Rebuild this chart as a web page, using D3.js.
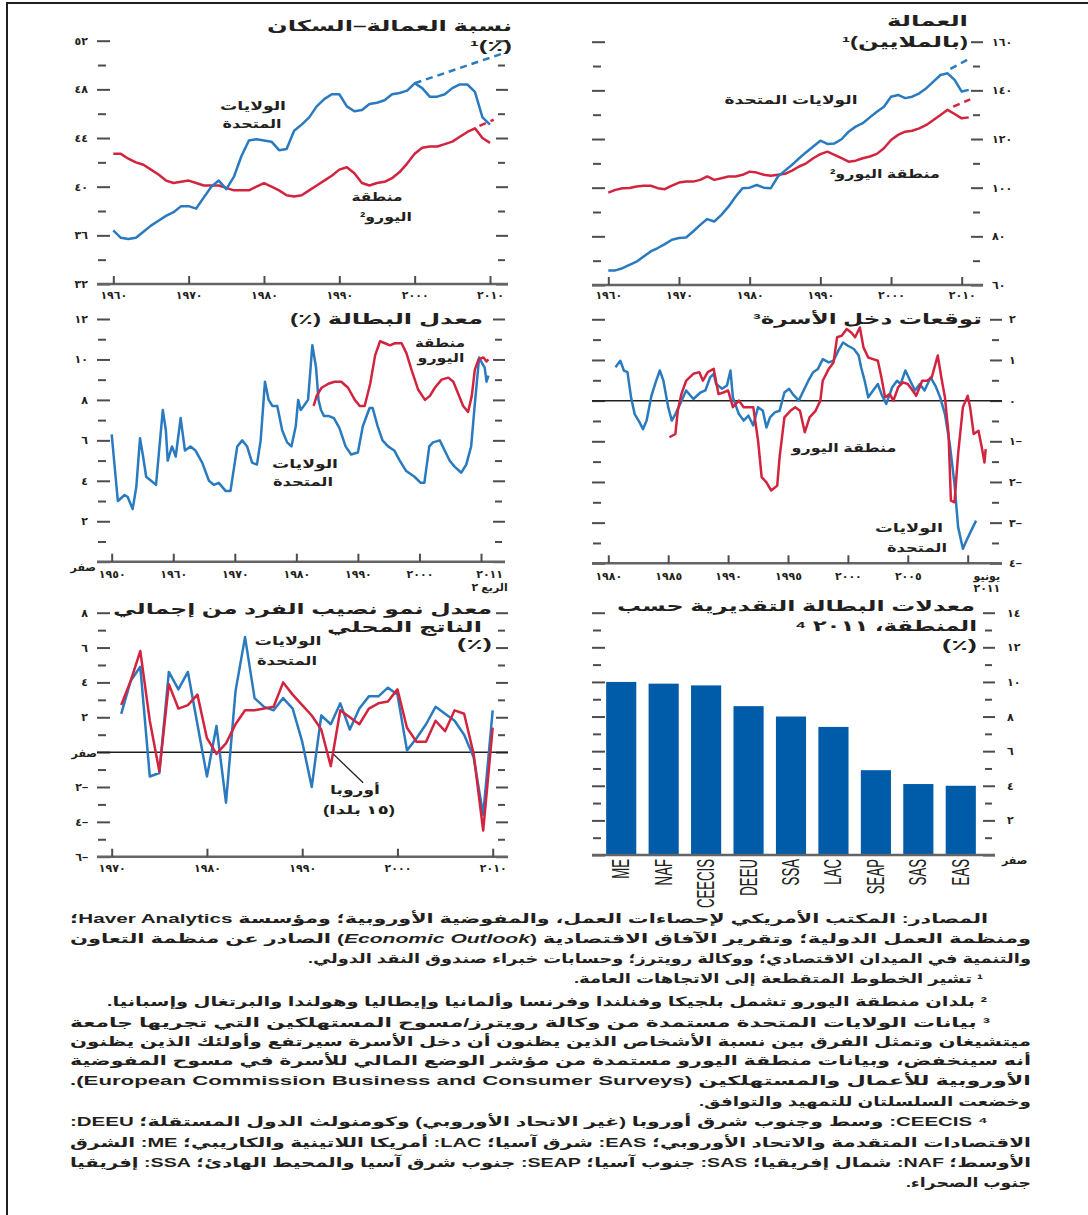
<!DOCTYPE html>
<html>
<head>
<meta charset="utf-8">
<script src="https://cdn.jsdelivr.net/npm/d3@7"></script>
<style>
  body { margin: 0; background: #fff; }
  svg { display: block; }
</style>
</head>
<body>
<div id="chart"></div>
<script>
// ---- data ----
// employment-population ratio (%), annual from 1960
var p1Start = 1960;
var p1US = [36.4, 35.8, 35.7, 35.8, 36.3, 36.8, 37.2, 37.6, 37.9, 38.4,
  38.4, 38.2, 39.1, 40.0, 40.5, 39.8, 40.8, 42.5, 43.8, 43.9,
  43.8, 43.7, 43.0, 43.1, 44.6, 45.1, 45.7, 46.6, 47.2, 47.6,
  47.6, 46.6, 46.2, 46.3, 46.8, 46.9, 47.1, 47.6, 47.7, 47.9,
  48.5, 48.1, 47.4, 47.4, 47.6, 48.1, 48.4, 48.4, 47.8, 45.7, 45.1];
var p1EA = [42.7, 42.7, 42.3, 42.0, 41.8, 41.4, 41.0, 40.5, 40.3, 40.4,
  40.5, 40.3, 40.1, 40.1, 40.1, 39.9, 39.7, 39.7, 39.7, 40.0,
  40.3, 40.0, 39.7, 39.3, 39.2, 39.3, 39.7, 40.1, 40.5, 40.9,
  41.4, 41.6, 41.1, 40.3, 40.1, 40.3, 40.4, 40.7, 41.2, 41.9,
  42.7, 43.2, 43.3, 43.3, 43.5, 43.7, 44.1, 44.5, 44.8, 44.0, 43.6];
var p1USTrend = [[2000, 48.5], [2012.4, 51.1]];
var p1EATrend = [[2008.6, 45.0], [2010.5, 45.5]];
var p1YTicks = [32, 36, 40, 44, 48, 52];
var p1YLabels = ["٣٢", "٣٦", "٤٠", "٤٤", "٤٨", "٥٢"];
var decadeTicks = [1960, 1970, 1980, 1990, 2000, 2010];
var decadeLabels = ["١٩٦٠", "١٩٧٠", "١٩٨٠", "١٩٩٠", "٢٠٠٠", "٢٠١٠"];

// employment (millions), annual from 1960
var p2Start = 1960;
var p2US = [66.0, 66.0, 66.9, 68.3, 69.6, 71.7, 73.8, 75.2, 76.8, 78.6,
  79.3, 79.5, 82.0, 84.7, 87.1, 86.1, 88.8, 92.2, 96.3, 99.8,
  100.0, 101.1, 100.0, 99.8, 104.6, 107.0, 109.4, 112.1, 114.6, 116.9,
  119.3, 118.0, 118.2, 119.9, 123.0, 125.1, 126.5, 128.9, 131.2, 133.3,
  137.4, 138.1, 136.8, 137.4, 138.8, 140.9, 143.6, 146.3, 147.0, 144.3, 139.5, 140.2];
var p2EA = [98.0, 99.1, 99.8, 99.9, 100.5, 100.8, 100.8, 99.8, 99.4, 100.8,
  102.1, 102.5, 102.5, 103.2, 104.6, 103.2, 103.9, 104.6, 104.6, 105.3,
  106.6, 106.2, 105.3, 104.9, 105.3, 105.7, 107.0, 108.7, 110.0, 112.1,
  113.8, 114.8, 113.5, 112.1, 110.7, 111.1, 112.1, 112.8, 113.9, 116.2,
  119.6, 121.7, 123.0, 123.4, 124.4, 125.8, 127.8, 129.9, 132.0, 130.3, 128.5, 128.9];
var p2USTrend = [[2008.4, 148.8], [2011.2, 153.2]];
var p2EATrend = [[2008.8, 133.3], [2011.2, 136.3]];
var p2YTicks = [60, 80, 100, 120, 140, 160];
var p2YLabels = ["٦٠", "٨٠", "١٠٠", "١٢٠", "١٤٠", "١٦٠"];

// unemployment rate (%), [year, value]
var p3US = [[1950.0, 6.3], [1951.0, 3.0], [1952.1, 3.3], [1952.6, 3.2], [1953.4, 2.6], [1954.0, 3.7],
  [1954.6, 6.1], [1955.1, 5.2], [1955.6, 4.2], [1956.4, 4.0], [1957.2, 3.8], [1958.3, 7.5],
  [1958.8, 6.5], [1959.1, 5.0], [1959.8, 5.7], [1960.4, 5.2], [1961.2, 7.1], [1961.9, 5.5],
  [1962.8, 5.7], [1963.6, 5.5], [1964.7, 4.9], [1965.8, 4.0], [1966.6, 3.8], [1967.4, 3.9],
  [1968.5, 3.5], [1969.3, 3.5], [1970.4, 5.7], [1971.2, 6.0], [1972.0, 5.7], [1972.8, 4.9],
  [1973.6, 4.8], [1974.2, 6.0], [1974.9, 8.9], [1975.5, 8.0], [1976.1, 7.7], [1976.9, 7.7],
  [1977.7, 6.5], [1978.5, 5.9], [1979.2, 5.7], [1979.9, 6.7], [1980.3, 8.0], [1980.7, 7.5],
  [1981.2, 7.7], [1981.9, 8.0], [1982.6, 10.7], [1983.2, 9.6], [1983.6, 8.0], [1984.0, 7.5],
  [1984.5, 7.2], [1985.3, 7.2], [1986.1, 7.1], [1987.0, 6.6], [1988.0, 5.7], [1988.9, 5.3],
  [1990.0, 5.4], [1990.8, 6.7], [1991.9, 7.6], [1992.4, 7.6], [1993.2, 6.7], [1994.0, 6.0],
  [1994.9, 5.7], [1995.9, 5.5], [1996.8, 5.0], [1997.8, 4.5], [1999.2, 4.2], [2000.2, 3.9],
  [2000.8, 3.9], [2001.6, 5.7], [2002.2, 5.9], [2003.3, 6.0], [2004.1, 5.5], [2004.9, 5.0],
  [2005.7, 4.7], [2006.8, 4.4], [2007.6, 4.8], [2008.4, 5.7], [2009.0, 7.8], [2009.7, 10.1],
  [2010.2, 9.8], [2010.6, 9.6], [2010.9, 8.9], [2011.2, 9.2]];
var p3EA = [[1982.8, 7.7], [1983.3, 8.2], [1984.1, 8.6], [1985.2, 8.8], [1986.2, 8.9], [1987.3, 8.9],
  [1988.4, 8.6], [1989.5, 8.0], [1990.3, 7.7], [1991.1, 7.7], [1992.0, 8.8], [1992.8, 10.2],
  [1993.6, 10.9], [1994.4, 10.8], [1995.2, 10.7], [1996.0, 10.8], [1997.1, 10.8], [1997.9, 10.3],
  [1998.7, 9.5], [1999.8, 8.5], [2000.9, 8.0], [2001.7, 8.2], [2002.5, 8.6], [2003.6, 9.0],
  [2004.7, 9.1], [2005.5, 8.9], [2006.3, 8.3], [2007.1, 7.7], [2007.9, 7.4], [2008.5, 8.2],
  [2009.0, 9.5], [2009.6, 10.0], [2010.4, 10.1], [2010.9, 9.9], [2011.2, 10.0]];
var p3XTicks = [1950, 1960, 1970, 1980, 1990, 2000, 2010];
var p3XLabels = ["١٩٥٠", "١٩٦٠", "١٩٧٠", "١٩٨٠", "١٩٩٠", "٢٠٠٠"];
var p3YTicks = [2, 4, 6, 8, 10, 12];
var p3YLabels = ["٢", "٤", "٦", "٨", "١٠", "١٢"];

// household income expectations, [year, value]
var p4US = [[1980.6, 0.82], [1981.0, 0.98], [1981.3, 0.74], [1981.6, 0.70], [1981.9, 0.08], [1982.2, -0.33],
  [1982.6, -0.53], [1982.9, -0.70], [1983.2, -0.49], [1983.6, 0.12], [1984.0, 0.49], [1984.3, 0.74],
  [1984.6, 0.49], [1985.0, -0.16], [1985.3, -0.49], [1985.6, -0.33], [1986.0, -0.08], [1986.5, 0.25],
  [1987.1, 0.04], [1987.7, 0.20], [1988.1, 0.25], [1988.5, 0.57], [1988.8, 0.66], [1989.0, 0.41],
  [1989.5, 0.29], [1989.9, 0.37], [1990.2, 0.74], [1990.4, 0.08], [1990.9, -0.33], [1991.3, -0.49],
  [1991.7, -0.37], [1992.1, -0.61], [1992.5, -0.16], [1992.9, -0.25], [1993.2, -0.66], [1993.5, -0.41],
  [1993.9, -0.29], [1994.3, -0.25], [1994.7, 0.20], [1995.1, 0.29], [1995.4, 0.16], [1995.9, 0.0],
  [1996.3, 0.25], [1996.7, 0.49], [1997.1, 0.70], [1997.5, 0.78], [1997.9, 1.02], [1998.4, 0.94],
  [1998.8, 0.98], [1999.2, 1.23], [1999.6, 1.43], [2000.0, 1.35], [2000.5, 1.27], [2000.9, 1.11],
  [2001.1, 0.82], [2001.4, 0.49], [2001.7, 0.08], [2002.1, 0.25], [2002.5, 0.41], [2002.8, 0.16],
  [2003.2, -0.08], [2003.7, 0.33], [2004.1, 0.49], [2004.4, 0.41], [2004.8, 0.74], [2005.2, 0.49],
  [2005.6, 0.25], [2006.0, 0.41], [2006.4, 0.25], [2006.9, 0.57], [2007.3, 0.37], [2007.7, 0.08],
  [2008.1, -0.33], [2008.5, -1.06], [2008.9, -2.05], [2009.2, -3.11], [2009.6, -3.64], [2009.9, -3.44],
  [2010.3, -3.19], [2010.7, -2.95]];
var p4EA = [[1985.1, -0.90], [1985.6, -0.82], [1985.8, -0.25], [1986.1, 0.16], [1986.5, 0.49], [1987.1, 0.66],
  [1987.6, 0.70], [1987.9, 0.49], [1988.3, 0.70], [1988.8, 0.78], [1989.2, 0.16], [1989.6, 0.20],
  [1990.0, 0.25], [1990.4, -0.16], [1990.9, 0.0], [1991.3, -0.16], [1991.7, -0.16], [1992.1, -0.16],
  [1992.5, -0.98], [1992.8, -1.88], [1993.2, -2.01], [1993.6, -2.21], [1994.1, -2.09], [1994.3, -1.39],
  [1994.7, -0.41], [1995.2, -0.25], [1995.6, -0.16], [1996.0, -0.25], [1996.4, -0.78], [1996.8, -0.41],
  [1997.3, -0.25], [1997.7, 0.0], [1997.9, 0.49], [1998.4, 0.78], [1998.8, 0.94], [1999.1, 1.56],
  [1999.5, 1.60], [1999.9, 1.76], [2000.3, 1.67], [2000.6, 1.56], [2001.0, 1.80], [2001.3, 1.31],
  [2001.7, 1.06], [2002.1, 1.02], [2002.5, 0.98], [2002.8, 0.57], [2003.1, 0.08], [2003.5, 0.16],
  [2003.8, 0.0], [2004.2, 0.33], [2004.6, 0.45], [2005.0, 0.41], [2005.4, 0.25], [2005.7, 0.12],
  [2006.2, 0.49], [2006.6, 0.49], [2007.0, 0.57], [2007.5, 1.11], [2007.8, 0.57], [2008.1, 0.08],
  [2008.4, -0.82], [2008.6, -2.46], [2008.9, -2.50], [2009.2, -1.31], [2009.6, -0.16], [2010.0, 0.12],
  [2010.2, -0.16], [2010.5, -0.82], [2010.9, -0.74], [2011.2, -1.19], [2011.4, -1.52], [2011.5, -1.19]];
var p4XTicks = [1980, 1985, 1990, 1995, 2000, 2005, 2010];
var p4XLabels = ["١٩٨٠", "١٩٨٥", "١٩٩٠", "١٩٩٥", "٢٠٠٠", "٢٠٠٥"];
var p4YTicks = [-4, -3, -2, -1, 0, 1, 2];
var p4YLabels = ["٤–", "٣–", "٢–", "١–", "٠", "١", "٢"];

// real per capita GDP growth (%), annual from 1971
var p5Start = 1971;
var p5US = [2.2, 4.1, 4.9, -1.4, -1.2, 4.6, 3.6, 4.6, 1.6, -1.4,
  1.5, -2.9, 3.5, 6.6, 3.1, 2.6, 2.4, 3.1, 2.5, 0.6,
  -2.0, 2.1, 1.6, 2.8, 1.3, 2.5, 3.2, 3.2, 3.7, 3.3,
  0.1, 0.8, 1.6, 2.6, 2.2, 1.8, 1.0, -0.3, -3.6, 2.4];
var p5EU = [2.7, 4.1, 5.8, 1.8, -1.1, 3.9, 2.5, 2.7, 3.3, 0.8,
  -0.1, 0.5, 1.6, 2.4, 2.4, 2.5, 2.6, 4.0, 3.3, 2.7,
  2.1, 1.3, -0.8, 2.4, 2.0, 1.6, 2.5, 2.8, 2.9, 3.6,
  1.4, 0.6, 0.6, 1.8, 1.2, 2.4, 2.2, -0.1, -4.5, 1.4];
var p5Leader = [[1996.4, -1.76], [1993.3, -0.13]];
var p5XTicks = [1970, 1980, 1990, 2000, 2010];
var p5XLabels = ["١٩٧٠", "١٩٨٠", "١٩٩٠", "٢٠٠٠", "٢٠١٠"];
var p5YTicks = [-6, -4, -2, 2, 4, 6, 8];
var p5YLabels = ["٦–", "٤–", "٢–", "٢", "٤", "٦", "٨"];

// estimated unemployment rates by region, 2011 (%)
var p6Regions = ["ME", "NAF", "CEECIS", "DEEU", "SSA", "LAC", "SEAP", "SAS", "EAS"];
var p6Values = [10.0, 9.9, 9.8, 8.6, 8.0, 7.4, 4.9, 4.1, 4.0];
var p6YTicks = [2, 4, 6, 8, 10, 12, 14];
var p6YLabels = ["٢", "٤", "٦", "٨", "١٠", "١٢", "١٤"];

var notes = [
  "المصادر: المكتب الأمريكي لإحصاءات العمل، والمفوضية الأوروبية؛ ومؤسسة Haver Analytics؛",
  "ومنظمة العمل الدولية؛ وتقرير الآفاق الاقتصادية (*Economic Outlook*) الصادر عن منظمة التعاون",
  "والتنمية في الميدان الاقتصادي؛ ووكالة رويترز؛ وحسابات خبراء صندوق النقد الدولي.",
  "¹ تشير الخطوط المتقطعة إلى الاتجاهات العامة.",
  "² بلدان منطقة اليورو تشمل بلجيكا وفنلندا وفرنسا وألمانيا وإيطاليا وهولندا والبرتغال وإسبانيا.",
  "³ بيانات الولايات المتحدة مستمدة من وكالة رويترز/مسوح المستهلكين التي تجريها جامعة",
  "ميتشيغان وتمثل الفرق بين نسبة الأشخاص الذين يظنون أن دخل الأسرة سيرتفع وأولئك الذين يظنون",
  "أنه سينخفض، وبيانات منطقة اليورو مستمدة من مؤشر الوضع المالي للأسرة في مسوح المفوضية",
  "الأوروبية للأعمال والمستهلكين (European Commission Business and Consumer Surveys).",
  "وخضعت السلسلتان للتمهيد والتوافق.",
  "⁴ CEECIS: وسط وجنوب شرق أوروبا (غير الاتحاد الأوروبي) وكومنولث الدول المستقلة؛ DEEU:",
  "الاقتصادات المتقدمة والاتحاد الأوروبي؛ EAS: شرق آسيا؛ LAC: أمريكا اللاتينية والكاريبي؛ ME: الشرق",
  "الأوسط؛ NAF: شمال إفريقيا؛ SAS: جنوب آسيا؛ SEAP: جنوب شرق آسيا والمحيط الهادئ؛ SSA: إفريقيا",
  "جنوب الصحراء."
];
// layout of the note lines: right edge, baseline, stretched width
var noteRight = [988, 1031, 1031, 983, 987, 990, 1031, 1031, 1031, 1031, 988, 1031, 1031, 1031];
var noteY = [923, 943, 963, 983, 1006, 1027, 1046, 1065, 1085, 1106, 1126, 1147, 1167, 1187];
var noteW = [918, 961, 723, 409, 880, 920, 961, 961, 961, 332, 918, 961, 961, 125];

// ---- drawing ----
var ink = "#231f20", tickCol = "#4d4d4f", blue = "#2a7abf", red = "#d2243f", barBlue = "#005ca8";
var FONT = "'Liberation Sans','DejaVu Sans',sans-serif";

var svg = d3.select("#chart").append("svg")
  .attr("width", 1088).attr("height", 1215)
  .style("background", "#fff");

svg.append("path").attr("d", "M7,1215V3H1088")
  .attr("fill", "none").attr("stroke", ink).attr("stroke-width", 2);

function txt(sel, s, x, y, o) {
  o = o || {};
  var t = sel.append("text").attr("x", x).attr("y", y)
    .attr("font-family", FONT).attr("font-size", o.size || 12)
    .attr("font-weight", o.weight || "bold").attr("fill", ink)
    .attr("direction", "rtl")
    .attr("text-anchor", o.anchor || "middle");
  s.split("*").forEach(function(part, i) {
    if (!part) return;
    t.append("tspan").attr("font-style", i % 2 ? "italic" : null).text(part);
  });
  if (o.w) t.attr("textLength", o.w).attr("lengthAdjust", "spacingAndGlyphs");
  return t;
}

function tickSet(g, axis, pos, size, vals) {
  var a = g.append("g").attr("transform", "translate(" + pos + ",0)")
    .call(axis.tickValues(vals).tickSize(size).tickFormat(""));
  a.select(".domain").remove();
  a.selectAll("line").attr("stroke", tickCol).attr("stroke-width", 2);
}

function styleLabels(a) {
  a.select(".domain").remove();
  a.attr("font-family", FONT).attr("font-size", 11).attr("font-weight", "bold");
  a.selectAll("text").attr("fill", ink).attr("letter-spacing", 1.5);
}

function frame(o) {
  var g = svg.append("g");
  var x = d3.scaleLinear().domain(o.xDomain).range(o.xRange);
  var y = d3.scaleLinear().domain(o.yDomain).range(o.yRange);
  var all = d3.range(o.yDomain[0], o.yDomain[1] + o.minor / 2, o.minor);
  var isMajor = function(v) { return Math.abs(v / o.major - Math.round(v / o.major)) < 1e-6; };
  var maj = all.filter(isMajor), mnr = all.filter(function(v) { return !isMajor(v); });
  tickSet(g, d3.axisRight(y), o.left, 13, maj);
  tickSet(g, d3.axisRight(y), o.left + 1, 8, mnr);
  tickSet(g, d3.axisLeft(y), o.right, 12, maj);
  tickSet(g, d3.axisLeft(y), o.right - 3, 7, mnr);

  if (o.zero) {
    g.append("line").attr("x1", o.left).attr("x2", o.right)
      .attr("y1", y(0)).attr("y2", y(0)).attr("stroke", ink).attr("stroke-width", 1.5);
  }
  var y0 = y(o.yDomain[0]);
  g.append("line").attr("x1", o.left).attr("x2", o.right).attr("y1", y0).attr("y2", y0)
    .attr("stroke", "#636466").attr("stroke-width", 2.5);

  if (o.xTicks) {
    var xt = g.append("g").attr("transform", "translate(0," + y0 + ")")
      .call(d3.axisTop(x).tickValues(o.xTicks).tickSize(8).tickFormat(""));
    xt.select(".domain").remove();
    xt.selectAll("line").attr("stroke", tickCol).attr("stroke-width", 2);
  }
  if (o.xLabels) {
    var xl = g.append("g").attr("transform", "translate(0," + o.xLabelY + ")")
      .call(d3.axisBottom(x).tickValues(o.xLabelVals).tickSize(0).tickPadding(0)
        .tickFormat(function(d, i) { return o.xLabels[i]; }));
    styleLabels(xl);
    xl.selectAll("text").attr("dy", 0).attr("y", 0);
  }
  var ly = o.labelSide === "left" ? d3.axisLeft(y) : d3.axisRight(y);
  var yl = g.append("g").attr("transform", "translate(" + o.labelX + ",0)")
    .call(ly.tickValues(o.yLabelVals).tickSize(0).tickPadding(0)
      .tickFormat(function(d, i) { return o.yLabels[i]; }));
  styleLabels(yl);
  return { g: g, x: x, y: y };
}

function series(p, data, color, dashed) {
  var line = d3.line().x(function(d) { return p.x(d[0]); }).y(function(d) { return p.y(d[1]); });
  p.g.append("path").datum(data).attr("d", line)
    .attr("fill", "none").attr("stroke", color).attr("stroke-width", 2.5)
    .attr("stroke-linejoin", "round")
    .attr("stroke-dasharray", dashed ? "7,5" : null);
}

function annual(start, vals) {
  return vals.map(function(v, i) { return [start + i, v]; });
}

// panel 1: employment-population ratio
var p1 = frame({ xDomain: [1960, 2010], xRange: [113.3, 490], yDomain: [32, 52], yRange: [284, 40.7],
  minor: 2, major: 4, left: 97, right: 508, xTicks: decadeTicks, xLabelVals: decadeTicks,
  xLabels: decadeLabels, xLabelY: 299, labelSide: "left", labelX: 88,
  yLabelVals: p1YTicks, yLabels: p1YLabels });
series(p1, annual(p1Start, p1EA), red);
series(p1, p1EATrend, red, true);
series(p1, annual(p1Start, p1US), blue);
series(p1, p1USTrend, blue, true);
txt(p1.g, "نسبة العمالة–السكان", 512, 31, { size: 15, anchor: "start", w: 245 });
txt(p1.g, "(٪)¹", 512, 51, { size: 15, anchor: "start", w: 42 });
txt(p1.g, "الولايات", 253, 110, { w: 66 });
txt(p1.g, "المتحدة", 252, 128, { w: 59 });
txt(p1.g, "منطقة", 377, 201, { w: 51 });
txt(p1.g, "اليورو²", 386, 221, { w: 52 });

// panel 2: employment
var p2 = frame({ xDomain: [1960, 2010], xRange: [608.3, 961.7], yDomain: [60, 160], yRange: [285, 41.7],
  minor: 10, major: 20, left: 592, right: 983, xTicks: decadeTicks, xLabelVals: decadeTicks,
  xLabels: decadeLabels, xLabelY: 299, labelSide: "right", labelX: 992,
  yLabelVals: p2YTicks, yLabels: p2YLabels });
series(p2, annual(p2Start, p2EA), red);
series(p2, p2EATrend, red, true);
series(p2, annual(p2Start, p2US), blue);
series(p2, p2USTrend, blue, true);
txt(p2.g, "العمالة", 968, 26, { size: 15, anchor: "start", w: 81 });
txt(p2.g, "(بالملايين)¹", 968, 47, { size: 15, anchor: "start", w: 126 });
txt(p2.g, "الولايات المتحدة", 791, 104, { w: 133 });
txt(p2.g, "منطقة اليورو²", 885, 178, { w: 110 });

// panel 3: unemployment rate
var p3 = frame({ xDomain: [1950, 2010], xRange: [111.7, 481], yDomain: [0, 12], yRange: [561.7, 319],
  minor: 1, major: 2, left: 97, right: 505, xTicks: p3XTicks, xLabelVals: p3XTicks.slice(0, 6),
  xLabels: p3XLabels, xLabelY: 578, labelSide: "left", labelX: 88,
  yLabelVals: p3YTicks, yLabels: p3YLabels });
series(p3, p3US, blue);
series(p3, p3EA, red);
txt(p3.g, "صفر", 96, 571, { size: 11, anchor: "start" });
txt(p3.g, "٢٠١١", p3.x(2011.4), 578, { size: 11 }).attr("letter-spacing", 1.5);
txt(p3.g, "الربع ٢", p3.x(2011.4), 591, { size: 11 });
txt(p3.g, "معدل البطالة (٪)", 483, 324, { size: 15, anchor: "start", w: 193 });
txt(p3.g, "منطقة", 440, 347, { w: 50 });
txt(p3.g, "اليورو", 441, 362, { w: 47 });
txt(p3.g, "الولايات", 305, 468, { w: 66 });
txt(p3.g, "المتحدة", 303, 486, { w: 60 });

// panel 4: household income expectations
var p4 = frame({ xDomain: [1980, 2010], xRange: [608.3, 967.7], yDomain: [-4, 2], yRange: [563.3, 319.3],
  minor: 0.5, major: 1, left: 592, right: 1002, zero: true, xTicks: p4XTicks,
  xLabelVals: p4XTicks.slice(0, 6), xLabels: p4XLabels, xLabelY: 580, labelSide: "right", labelX: 1009,
  yLabelVals: p4YTicks, yLabels: p4YLabels });
series(p4, p4US, blue);
series(p4, p4EA, red);
txt(p4.g, "يونيو", p4.x(2011.6), 580, { size: 11 });
txt(p4.g, "٢٠١١", p4.x(2011.6), 592, { size: 11 }).attr("letter-spacing", 1.5);
txt(p4.g, "توقعات دخل الأسرة³", 982, 324, { size: 15, anchor: "start", w: 229 });
txt(p4.g, "منطقة اليورو", 844, 452, { w: 105 });
txt(p4.g, "الولايات", 909, 532, { w: 68 });
txt(p4.g, "المتحدة", 917, 552, { w: 60 });

// panel 5: per capita GDP growth
var p5 = frame({ xDomain: [1970, 2010], xRange: [111.7, 492.7], yDomain: [-6, 8], yRange: [856.7, 612.7],
  minor: 1, major: 2, left: 97, right: 508, zero: true, xTicks: p5XTicks, xLabelVals: p5XTicks,
  xLabels: p5XLabels, xLabelY: 872, labelSide: "left", labelX: 88,
  yLabelVals: p5YTicks, yLabels: p5YLabels });
series(p5, annual(p5Start, p5US), blue);
series(p5, annual(p5Start, p5EU), red);
p5.g.append("path").datum(p5Leader)
  .attr("d", d3.line().x(function(d) { return p5.x(d[0]); }).y(function(d) { return p5.y(d[1]); }))
  .attr("stroke", ink).attr("stroke-width", 1.3).attr("fill", "none");
txt(p5.g, "صفر", 97, 757, { size: 11, anchor: "start" });
txt(p5.g, "معدل نمو نصيب الفرد من إجمالي", 492, 614, { size: 15, anchor: "start", w: 379 });
txt(p5.g, "الناتج المحلي", 482, 632, { size: 15, anchor: "start", w: 155 });
txt(p5.g, "(٪)", 492, 649, { size: 15, anchor: "start", w: 35 });
txt(p5.g, "الولايات", 288, 645, { w: 67 });
txt(p5.g, "المتحدة", 287, 665, { w: 60 });
txt(p5.g, "أوروبا", 355, 794, { w: 50 });
txt(p5.g, "(١٥ بلدا)", 359, 814, { w: 72 });

// panel 6: unemployment by region
var p6 = frame({ xDomain: [0, 1], xRange: [600, 982], yDomain: [0, 14], yRange: [855, 612.7],
  minor: 1, major: 2, left: 592, right: 995, labelSide: "right", labelX: 1007,
  yLabelVals: p6YTicks, yLabels: p6YLabels });
var xb = d3.scaleBand().domain(p6Regions).range([600, 982]).paddingInner(0.29).paddingOuter(0.145);
p6.g.insert("g", ":first-child").selectAll("rect").data(p6Regions).enter().append("rect")
  .attr("x", function(d) { return xb(d); })
  .attr("width", xb.bandwidth())
  .attr("y", function(d, i) { return p6.y(p6Values[i]); })
  .attr("height", function(d, i) { return p6.y(0) - p6.y(p6Values[i]); })
  .attr("fill", barBlue);
p6.g.selectAll(".cat").data(p6Regions).enter().append("text")
  .attr("class", "cat")
  .attr("transform", function(d) {
    return "translate(" + (xb(d) + xb.bandwidth() / 2 + 8) + ",859) rotate(-90) scale(0.55,1)";
  })
  .attr("text-anchor", "end")
  .attr("font-family", FONT).attr("font-size", 24).attr("fill", ink)
  .text(function(d) { return d; });
txt(p6.g, "صفر", 1002, 864, { size: 11, anchor: "end" });
txt(p6.g, "معدلات البطالة التقديرية حسب", 975, 611, { size: 15, anchor: "start", w: 358 });
txt(p6.g, "المنطقة، ٢٠١١ ⁴", 977, 631, { size: 15, anchor: "start", w: 182 });
txt(p6.g, "(٪)", 977, 650, { size: 15, anchor: "start", w: 35 });

// notes
var ng = svg.append("g");
notes.forEach(function(s, i) {
  txt(ng, s, noteRight[i], noteY[i], { size: 13, anchor: "start", w: noteW[i] });
});
</script>
</body>
</html>
